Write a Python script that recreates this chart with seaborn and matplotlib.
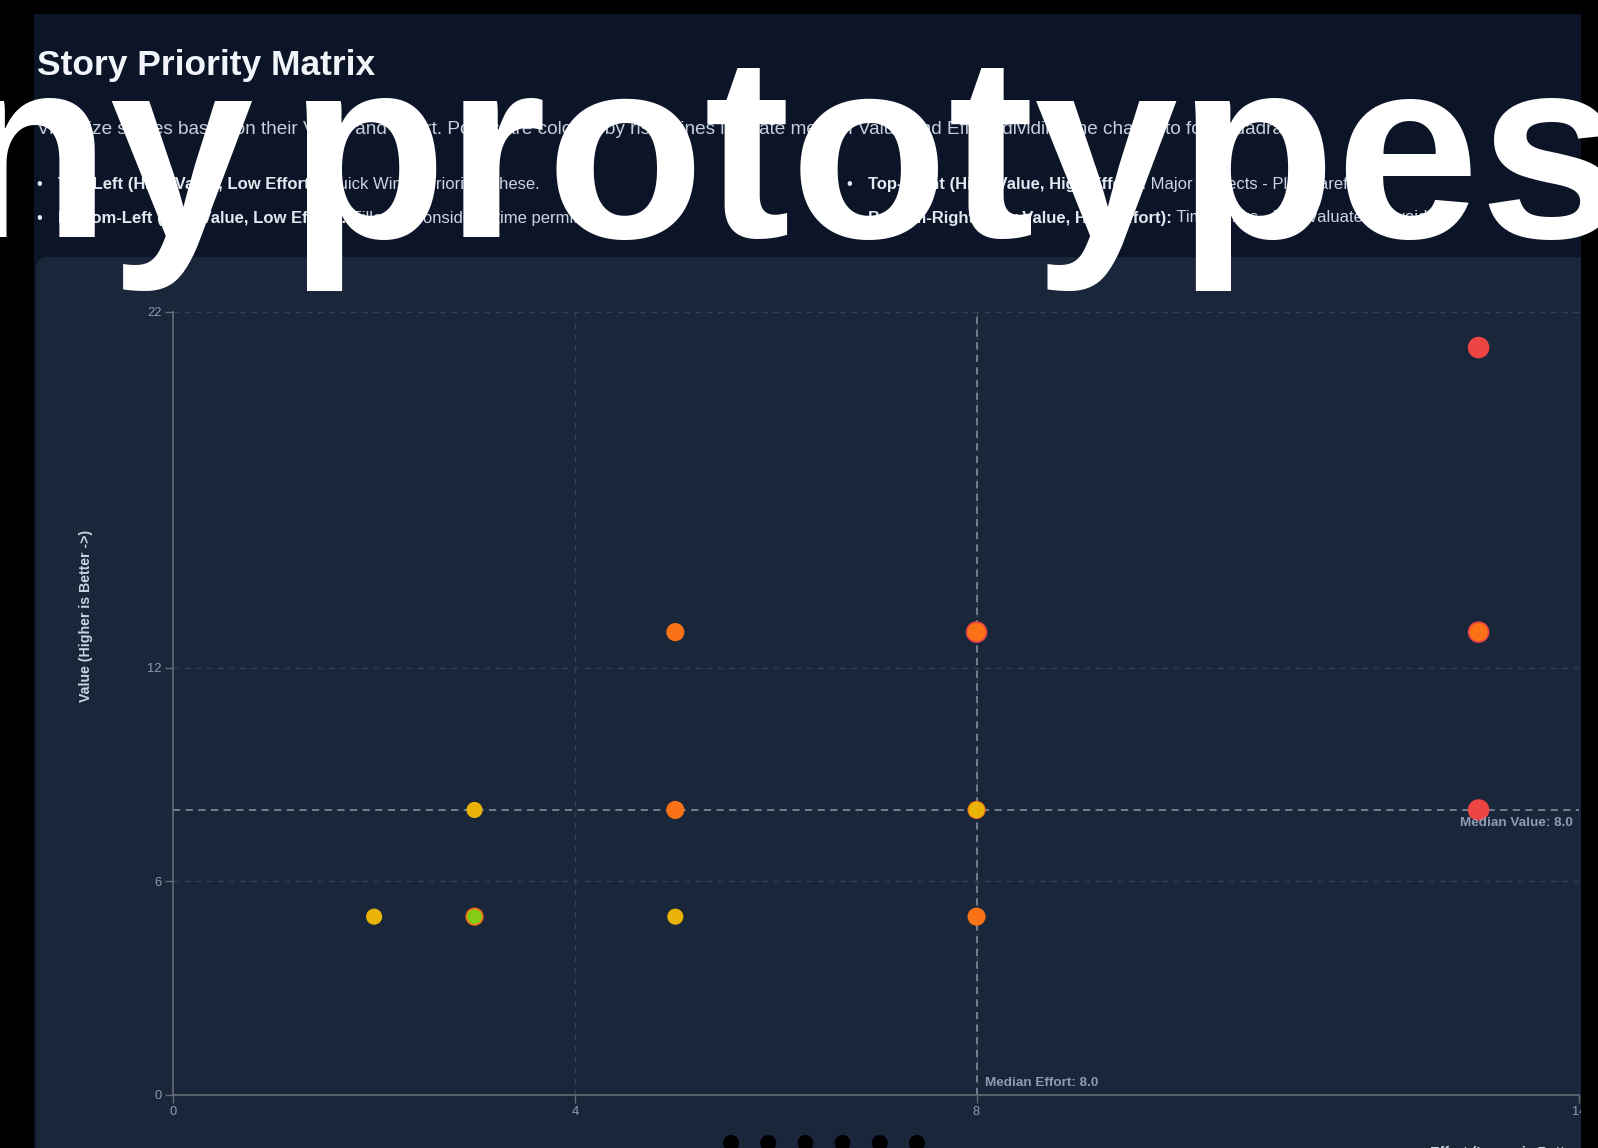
import matplotlib
matplotlib.use('Agg')
import matplotlib.pyplot as plt
from matplotlib.patches import Rectangle, FancyBboxPatch, Ellipse
import numpy as np
import pandas as pd
import seaborn as sns

W, H = 1598, 1148

# stories: effort / value / priority
effort = [13, 8, 13, 13, 5, 8, 13, 5, 8, 3, 8, 3, 8, 2, 5, 3]
value = [21, 13, 13, 8, 13, 13, 13, 8, 5, 5, 8, 8, 8, 5, 5, 5]
priority = ['Critical'] * 4 + ['High'] * 7 + ['Medium'] * 4 + ['Low']

priority_order = ['Critical', 'High', 'Medium', 'Low']
priority_colors = ['#ef4444', '#f97316', '#eab308', '#84cc16']
priority_sizes = [240, 170, 135, 112]

x_ticks = [0, 4, 8, 14]
y_ticks = [0, 6, 12, 22]

title = 'Story Priority Matrix'
description = ('Visualize stories based on their Value and Effort. Points are colored by risk. '
               'Lines indicate median Value and Effort, dividing the chart into four quadrants:')
quadrants = [
    ('Top-Left (High Value, Low Effort):', 'Quick Wins - Prioritize these.'),
    ('Bottom-Left (Low Value, Low Effort):', 'Fillers - Consider if time permits.'),
    ('Top-Right (High Value, High Effort):', 'Major Projects - Plan carefully.'),
    ('Bottom-Right (Low Value, High Effort):', 'Time Sinks - Re-evaluate or avoid.'),
]
overlay_words = ['ny', 'prototypes']

df = pd.DataFrame({'effort': effort, 'value': value, 'priority': priority})
median_effort = float(np.median(df['effort']))
median_value = float(np.median(df['value']))

sns.set_theme(style='dark')
plt.rcParams['font.family'] = ['Liberation Sans', 'DejaVu Sans']

fig = plt.figure(figsize=(W / 100, H / 100), dpi=100, facecolor='black')
renderer = fig.canvas.get_renderer()

# background layer in pixel coordinates (y down)
bg = fig.add_axes([0, 0, 1, 1], zorder=-1)
bg.set_xlim(0, W)
bg.set_ylim(H, 0)
bg.axis('off')
bg.add_patch(Rectangle((34, 14), 1547, H, color='#0c1528', lw=0))
bg.add_patch(FancyBboxPatch((36, 257), 1600, 1000, boxstyle='round,pad=0,rounding_size=12',
                            color='#1a2639', lw=0))


def fit_size(text, width_px, **kw):
    t = bg.text(0, 0, text, fontsize=10, **kw)
    w = t.get_window_extent(renderer).width
    t.remove()
    return 10 * width_px / w


bg.text(37, 66, title, fontsize=fit_size(title, 339, fontweight='bold'), fontweight='bold',
        color='#f1f5f9', va='center')
bg.text(37, 130, description, fontsize=fit_size(description, 1286), color='#c6cfdb',
        va='center')

bfs = fit_size(quadrants[0][0] + ' ' + quadrants[0][1], 482, fontweight='bold') * 1.03
for i, (bold, rest) in enumerate(quadrants):
    bx = 39 if i < 2 else 849
    by = 184 if i % 2 == 0 else 218
    bg.text(bx, by, '•', fontsize=bfs, color='#e2e8f0', va='center', ha='center')
    t = bg.text(bx + 19, by, bold, fontsize=bfs, fontweight='bold', color='#e2e8f0', va='center')
    bg.annotate(' ' + rest, xy=(1, 0), xycoords=t, va='bottom', ha='left',
                fontsize=bfs, color='#cbd5e1', annotation_clip=False)

bg.text(86, 616, 'Value (Higher is Better ->)', rotation=90, fontsize=10.2, fontweight='bold',
        color='#cbd5e1', va='center', ha='center')
bg.text(1430, 1146, 'Effort (Lower is Better ->)', fontsize=10.2, fontweight='bold',
        color='#cbd5e1', va='top', ha='left')

# chart area
x0, x1, y0, y1 = 173.3, 1579, 1094.5, 312
ax = fig.add_axes([x0 / W, (H - y0) / H, (x1 - x0) / W, (y0 - y1) / H])
ax.set_facecolor('none')

grid_kw = dict(color='#334155', lw=1, dashes=(4, 4), zorder=1)
for yt in y_ticks[1:]:
    ax.axhline(yt, **grid_kw)
for xt in x_ticks[1:]:
    ax.axvline(xt, **grid_kw)

med_kw = dict(color='#7c8594', lw=1.3, dashes=(4, 3), zorder=2)
ax.axhline(median_value, **med_kw)
ax.axvline(median_effort, **med_kw)

sns.scatterplot(data=df, x='effort', y='value', hue='priority', size='priority',
                hue_order=priority_order, size_order=priority_order,
                palette=dict(zip(priority_order, priority_colors)),
                sizes=dict(zip(priority_order, priority_sizes)),
                linewidth=0, alpha=1, legend=False, ax=ax, zorder=3)

ax.set_xlim(x_ticks[0], x_ticks[-1])
ax.set_ylim(y_ticks[0], y_ticks[-1])
ax.set_xticks(x_ticks)
ax.set_yticks(y_ticks)
ax.set_xlabel('')
ax.set_ylabel('')
ax.grid(False)
for side in ['top', 'right']:
    ax.spines[side].set_visible(False)
for side in ['left', 'bottom']:
    ax.spines[side].set_color('#666c75')
    ax.spines[side].set_linewidth(1.2)
ax.tick_params(axis='both', length=5.8, width=1, color='#666c75', labelcolor='#8f9bb0',
               labelsize=9.3, direction='out')
ax.tick_params(axis='y', pad=2.4, left=True)
ax.tick_params(axis='x', pad=2.2, bottom=True)

lab_kw = dict(fontsize=9.7, fontweight='bold', color='#8f9bb0', textcoords='offset pixels',
              annotation_clip=False)
ax.annotate(f'Median Value: {median_value:.1f}', xy=(x_ticks[-1], median_value), xytext=(-6, -13),
            ha='right', va='center', **lab_kw)
ax.annotate(f'Median Effort: {median_effort:.1f}', xy=(median_effort, 0), xytext=(8, 11),
            ha='left', va='center', **lab_kw)

# screenshot crop on the right edge
fig.add_artist(Rectangle((1581 / W, 0), 1, 1, transform=fig.transFigure, color='black', lw=0, zorder=5))

# carousel dots
for i in range(6):
    cx = 731 + 37.2 * i
    fig.add_artist(Ellipse((cx / W, 1 - 1143 / H), 16 / W, 16 / H, transform=fig.transFigure,
                           color='black', lw=0, zorder=6))

# big overlay caption
ov_kw = dict(fontsize=186, fontweight='bold', color='white', va='baseline', ha='left', zorder=10)
fig.text(-48 / W, 1 - 237 / H, overlay_words[0], **ov_kw)
fig.text(288 / W, 1 - 237 / H, overlay_words[1], **ov_kw)

fig.savefig('out.png', dpi=100, facecolor='black')
